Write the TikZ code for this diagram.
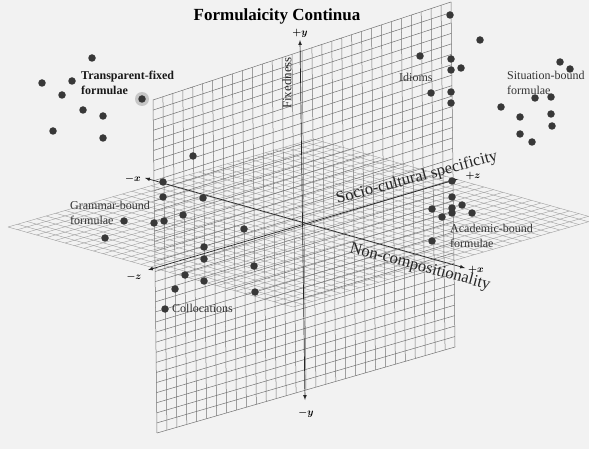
\documentclass[tikz,border=0pt]{standalone}
\usepackage{fontspec}
\setmainfont{Liberation Serif}
\usetikzlibrary{calc}

\tikzset{
  dot/.style={circle, fill=black!78, inner sep=0pt, minimum size=7.5pt},
  halo/.style={circle, fill=black!22, inner sep=0pt, minimum size=14pt},
  vgrid/.style={draw=black!55, line width=0.5pt},
  hgrid/.style={draw=black!38, line width=0.4pt},
  axis/.style={<->, >=latex, line width=0.7pt, draw=black!85},
  group/.style={anchor=west, align=left, inner sep=0pt, text=black!80, font=\fontsize{12}{14.5}\selectfont},
  sign/.style={inner sep=0pt, font=\fontsize{10}{11}\selectfont\boldmath},
  axisname/.style={inner sep=0pt, text=black!85, font=\fontsize{16.5}{19}\selectfont}
}

\begin{document}
\begin{tikzpicture}[x=1pt, y=-1pt]
  \useasboundingbox (0,0) rectangle (589,449);
  \fill[black!5] (0,0) rectangle (589,449);
  \clip (0,0) rectangle (589,449);

  % corners of the two planes
  \coordinate (vTL) at (153,100);
  \coordinate (vTR) at (451,2);
  \coordinate (vBL) at (157,433);
  \coordinate (vBR) at (455,347);
  \coordinate (hL) at (8,227);
  \coordinate (hT) at (313,139);
  \coordinate (hR) at (598,219);
  \coordinate (hB) at (293,307);

  % horizontal plane
  \foreach \i in {0,...,30}
    \draw[hgrid] ($(hL)!\i/30!(hB)$) -- ($(hT)!\i/30!(hR)$);
  \foreach \j in {0,...,32}
    \draw[hgrid] ($(hL)!\j/32!(hT)$) -- ($(hB)!\j/32!(hR)$);

  % vertical plane
  \foreach \i in {0,...,30}
    \draw[vgrid] ($(vTL)!\i/30!(vTR)$) -- ($(vBL)!\i/30!(vBR)$);
  \foreach \j in {0,...,33}
    \draw[vgrid] ($(vTL)!\j/33!(vBL)$) -- ($(vTR)!\j/33!(vBR)$);

  % axes
  \coordinate (xneg) at (145,178);
  \coordinate (xpos) at (465,268);
  \coordinate (zneg) at (148,270);
  \coordinate (zpos) at (458,179);
  \coordinate (ypos) at (300,40);
  \coordinate (yneg) at (305,400);

  \draw[axis] (xneg) -- (xpos);
  \draw[axis] (zneg) -- (zpos);
  \draw[axis] (yneg) -- (ypos);

  \node[sign] (xnegl) at (133,179) {$-x$};
  \node[sign] (xposl) at (476,270) {$+x$};
  \node[sign] (znegl) at (134,277) {$-z$};
  \node[sign] (zposl) at (473,176) {$+z$};
  \node[sign] (yposl) at (300,33) {$+y$};
  \node[sign] (ynegl) at (306,413) {$-y$};

  \node[axisname, rotate=90, font=\fontsize{13}{15}\selectfont] (fix) at (287,83) {Fixedness};
  \node[axisname, rotate=15] (socio) at (417,178) {Socio-cultural specificity};
  \node[axisname, rotate=-15] (noncomp) at (420,267) {Non-compositionality};

  \node[font=\fontsize{17}{20}\selectfont\bfseries] (title) at (277,16) {Formulaicity Continua};

  % formula types
  \node[halo] (glow) at (142,99) {};
  \foreach \px/\py [count=\k] in {92/58, 42/83, 72/81, 62/95, 142/99, 83/110, 103/116, 53/131, 103/138}
    \node[dot] (tf\k) at (\px,\py) {};
  \foreach \px/\py [count=\k] in {193/156, 163/182, 163/197, 203/198, 183/215, 124/221, 154/223, 164/221, 105/238, 244/229}
    \node[dot] (gb\k) at (\px,\py) {};
  \foreach \px/\py [count=\k] in {204/247, 204/259, 254/266, 185/275, 204/281, 175/289, 255/292, 165/309}
    \node[dot] (co\k) at (\px,\py) {};
  \foreach \px/\py [count=\k] in {450/15, 480/40, 420/56, 451/59, 451/70, 461/68, 431/93, 451/92, 451/103}
    \node[dot] (id\k) at (\px,\py) {};
  \foreach \px/\py [count=\k] in {501/107, 560/62, 570/69, 535/98, 551/97, 520/117, 551/114, 552/126, 520/134, 532/142}
    \node[dot] (sb\k) at (\px,\py) {};
  \foreach \px/\py [count=\k] in {452/181, 452/197, 432/209, 452/208, 462/205, 452/213, 442/217, 472/213, 432/241}
    \node[dot] (ab\k) at (\px,\py) {};

  \node[group, font=\fontsize{12}{14.5}\selectfont\bfseries, text=black!90] (tfl) at (81,83) {Transparent-fixed\\formulae};
  \node[group] (idl) at (399,77) {Idioms};
  \node[group] (sbl) at (507,83) {Situation-bound\\formulae};
  \node[group] (gbl) at (70,213) {Grammar-bound\\formulae};
  \node[group] (abl) at (450,236) {Academic-bound\\formulae};
  \node[group] (col) at (172,308) {Collocations};
\end{tikzpicture}
\end{document}
